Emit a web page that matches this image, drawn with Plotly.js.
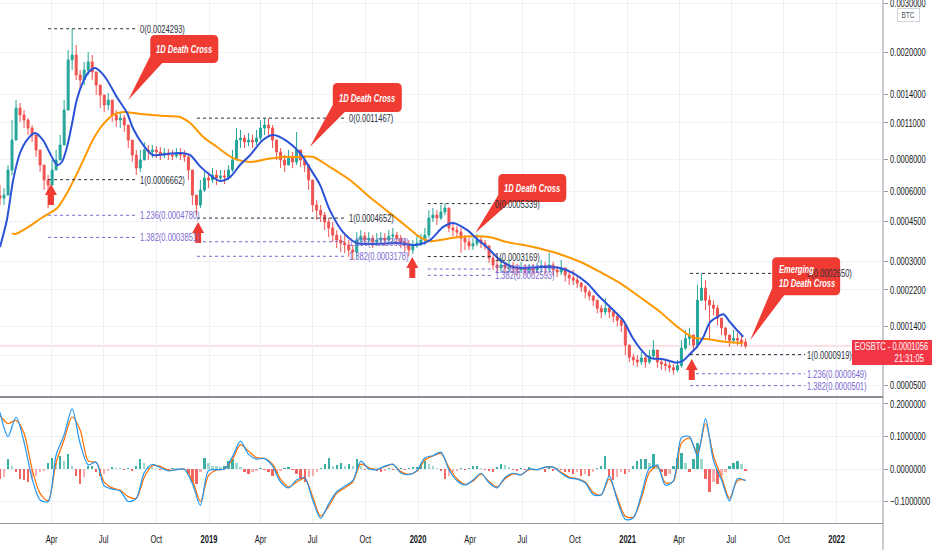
<!DOCTYPE html>
<html><head><meta charset="utf-8">
<script src="https://cdn.plot.ly/plotly-3.0.1.min.js"></script>
<style>html,body{margin:0;padding:0;background:#fff;}#chart{width:932px;height:550px;}</style>
</head><body><div id="chart"></div>
<script>
// ---------- DATA (prices in micro-BTC, 1e-6 BTC) ----------
const START = '2018-01-01';           // first weekly candle
const UNIT = 1e-6;
const OPEN0 = 575;
const closeU = [562,578,727,948,1250,1178,1128,1053,991,869,
760,664,634,727,795,908,1229,1875,1954,1654,
1586,1724,1845,1696,1520,1397,1283,1339,1178,1128,
1148,1080,948,831,740,795,869,854,869,854,
831,846,831,824,846,831,817,727,578,527,
606,676,664,695,676,689,683,727,795,948,
965,932,948,932,965,1053,1080,1053,948,854,
795,760,809,781,869,795,760,664,527,502,
479,448,423,394,375,364,357,339,332,375,
390,375,382,368,375,382,375,390,394,382,
368,357,339,357,364,375,394,466,479,466,
493,512,423,414,406,382,368,353,361,375,
364,353,312,290,281,290,281,287,281,275,
281,275,278,275,281,287,281,290,275,269,
281,260,252,246,238,228,215,205,195,177,
169,177,169,160,152,142,107,88,84,81,
87,81,90,99,81,78,76,73,70,76,
102,118,124,107,195,225,195,184,177,156,
137,124,115,118,115,112,105.6];
const highU = [634,617,760,1128,1339,1305,1229,1148,1080,948,
854,740,695,795,869,991,1339,2037,2429,2124,
1724,1845,2004,1954,1654,1520,1397,1421,1339,1229,
1209,1178,1053,948,869,869,932,908,908,900,
892,884,877,869,884,884,869,831,695,578,
664,714,714,740,727,727,727,760,869,1053,
1035,991,1008,991,1035,1128,1147,1147,1080,948,
884,831,869,854,1017,869,831,760,634,552,
527,493,466,448,414,394,394,375,357,406,
414,406,406,394,402,406,402,414,423,406,
394,382,375,375,390,398,423,502,512,502,
527,534,502,440,431,423,394,382,382,398,
386,375,357,322,306,312,300,306,300,293,
300,293,293,293,296,306,300,329,300,287,
306,281,269,275,260,241,233,220,207,191,
184,200,184,173,164,156,133,107,93,91,
96,91,99,115,91,87,84,81,78,84,
115,133,137,124,233,265,246,207,195,184,
152,138,124,133,128,124,118];
const lowU = [527,527,578,695,948,1109,1053,991,932,817,
714,606,512,634,727,795,908,1229,1724,1586,
1482,1520,1654,1586,1397,1250,1209,1229,1109,1062,
1053,1017,884,781,695,714,795,795,809,809,
795,809,795,795,809,795,781,664,527,479,
512,594,617,646,634,652,640,664,714,795,
884,884,900,884,908,948,991,991,884,795,
740,714,760,740,760,747,714,606,493,457,
448,414,386,368,346,332,329,316,306,312,
357,357,357,346,353,357,353,364,368,357,
346,332,318,325,346,353,357,382,448,435,
457,479,406,390,382,329,339,339,339,353,
346,339,296,275,266,269,266,269,266,260,
266,260,263,260,266,269,263,269,257,254,
260,241,233,233,225,215,200,195,182,166,
156,162,156,148,140,129,91,81,76,74,
77,73,78,84,73,70,69,67,64,67,
73,99,107,96,102,195,173,115,162,142,
124,115,104,109,107,104,102];

// fast moving average (blue)
const fastDates = ['2018-01-01','2018-01-13','2018-01-24','2018-02-05','2018-02-17','2018-03-03','2018-03-17','2018-03-29','2018-04-11','2018-04-19',
'2018-04-28','2018-05-07','2018-05-15','2018-05-26','2018-06-05','2018-06-16','2018-06-26','2018-07-07','2018-07-24','2018-08-11',
'2018-08-21','2018-09-08','2018-09-25','2018-10-20','2018-11-11','2018-11-29','2018-12-16','2019-01-03','2019-01-20','2019-02-07',
'2019-02-24','2019-03-14','2019-04-05','2019-04-23','2019-05-17','2019-06-09','2019-06-26','2019-07-14','2019-07-31','2019-08-23',
'2019-09-16','2019-10-21','2019-11-25','2019-12-30','2020-01-22','2020-02-14','2020-03-02','2020-03-27','2020-04-13','2020-04-30',
'2020-05-23','2020-06-15','2020-07-09','2020-08-01','2020-09-05','2020-09-28','2020-10-22','2020-11-14','2020-12-07','2020-12-24',
'2021-01-10','2021-01-28','2021-02-09','2021-03-04','2021-03-28','2021-04-08','2021-04-20','2021-05-02','2021-05-13','2021-05-25',
'2021-06-06','2021-06-17','2021-06-29','2021-07-11','2021-07-22'];
const fastU = [350,457,664,846,948,1008,948,846,760,781,
892,1099,1339,1560,1696,1754,1696,1586,1373,1198,
1053,908,831,839,846,831,753,695,658,683,
760,831,948,991,940,846,740,634,502,406,
364,361,364,357,375,427,444,414,379,350,
306,284,281,284,281,266,238,202,173,152,
119,96,87,85,80,83,93,104,120,148,
158,164,148,133,121];

// slow moving average (orange)
const slowDates = ['2018-01-22','2018-01-27','2018-02-17','2018-03-17','2018-04-11','2018-04-28','2018-05-21','2018-06-12','2018-06-25','2018-07-07',
'2018-07-17','2018-08-04','2018-09-03','2018-10-20','2018-11-11','2018-11-29','2018-12-22','2019-01-15','2019-02-12','2019-03-14',
'2019-04-12','2019-05-10','2019-06-09','2019-07-02','2019-07-31','2019-09-04','2019-10-09','2019-11-13','2019-12-13','2020-01-04',
'2020-01-22','2020-02-08','2020-03-09','2020-04-13','2020-05-06','2020-06-04','2020-07-20','2020-08-24','2020-10-10','2020-11-14',
'2020-12-19','2021-01-23','2021-02-27','2021-03-28','2021-04-25','2021-05-20','2021-06-24','2021-07-22'];
const slowU = [402,398,423,470,512,589,747,948,1053,1128,
1178,1209,1188,1168,1158,1099,974,892,809,781,
802,817,817,817,747,664,567,488,427,386,
371,375,386,390,386,368,350,332,300,269,
238,202,169,140,120,117,112,110];

// lower oscillator (bi-weekly line values, weekly histogram)
const oscLine = [0.174,0.100,0.160,0.083,-0.029,-0.095,-0.100,0.043,0.105,0.185,
0.078,0.013,0.021,-0.052,-0.062,-0.068,-0.100,-0.090,-0.011,0.014,
0.004,-0.006,-0.002,-0.001,-0.045,-0.112,-0.005,-0.002,0.000,0.038,
0.086,0.045,0.031,0.032,0.009,-0.040,-0.058,-0.034,-0.027,-0.095,
-0.152,-0.107,-0.070,-0.053,-0.036,0.024,0.000,-0.002,0.009,0.015,
-0.012,-0.017,-0.005,0.035,0.041,0.052,-0.002,-0.036,-0.049,-0.034,
-0.013,-0.042,-0.058,-0.026,-0.013,-0.018,0.000,-0.002,0.006,0.006,
-0.013,-0.028,-0.031,-0.042,-0.079,-0.079,-0.021,-0.096,-0.155,-0.150,
-0.079,0.002,0.011,-0.050,-0.036,0.096,0.100,0.041,0.155,0.025,
-0.034,-0.098,-0.029,-0.036];
const oscSignal = [0.165,0.140,0.150,0.110,0.000,-0.075,-0.098,0.020,0.090,0.160,
0.120,0.025,0.020,-0.040,-0.058,-0.065,-0.085,-0.090,-0.025,0.010,
0.008,-0.004,-0.002,0.000,-0.035,-0.100,-0.020,-0.003,0.000,0.030,
0.075,0.055,0.035,0.033,0.015,-0.032,-0.055,-0.040,-0.028,-0.085,
-0.145,-0.115,-0.075,-0.058,-0.040,0.015,0.004,-0.001,0.007,0.014,
-0.008,-0.016,-0.007,0.028,0.040,0.048,0.005,-0.030,-0.047,-0.037,
-0.016,-0.038,-0.055,-0.030,-0.015,-0.017,-0.002,-0.002,0.005,0.006,
-0.010,-0.025,-0.030,-0.040,-0.072,-0.080,-0.030,-0.088,-0.145,-0.148,
-0.090,-0.010,0.008,-0.042,-0.038,0.080,0.095,0.050,0.140,0.040,
-0.025,-0.090,-0.035,-0.034];
const oscHist = [-0.03,-0.025,0.03,0.01,-0.01,-0.03,-0.035,-0.04,-0.03,-0.02,
-0.01,-0.005,0.02,0.035,0.02,0.04,0.025,0.045,0.01,-0.02,
-0.045,-0.025,0.008,0.01,-0.01,-0.02,-0.015,-0.005,0.005,0.003,
0.002,-0.003,0.004,-0.005,0.008,0.03,0.02,0.01,0.005,0.003,
-0.003,0.002,-0.002,0.003,0.002,-0.004,-0.003,-0.015,-0.04,-0.045,
-0.01,0.035,0.02,0.01,0.008,0.005,0.01,0.025,0.03,0.02,
0.005,-0.01,-0.015,-0.01,-0.005,0.003,-0.003,-0.01,-0.02,-0.015,
-0.005,0.004,0.005,-0.004,-0.015,-0.03,-0.04,-0.025,-0.02,-0.01,
0.003,0.015,0.035,0.01,0.012,0.02,0.01,0.015,0.01,0.03,
0.01,-0.003,0.003,0.004,-0.005,-0.008,-0.006,0.004,-0.004,-0.003,
0.003,-0.003,0.003,0.005,0.006,0.015,0.025,0.015,0.008,0.004,
-0.006,-0.03,-0.02,-0.01,-0.005,0.003,-0.004,0.004,0.008,0.01,
0.004,-0.004,-0.006,-0.01,0.006,0.015,0.012,0.006,-0.004,-0.006,
0.004,-0.004,0.005,0.004,-0.003,0.003,-0.01,0.006,-0.006,0.004,
-0.004,-0.008,-0.01,-0.015,-0.01,-0.02,-0.015,-0.02,-0.01,0.004,
0.01,0.04,-0.02,-0.035,-0.025,-0.01,-0.015,-0.01,0.01,0.025,
0.03,0.03,0.02,0.045,0.015,-0.01,-0.02,-0.015,0.01,0.035,
0.05,0.02,-0.01,0.03,0.08,0.03,-0.03,-0.07,-0.04,-0.045,
-0.02,-0.01,0.01,0.02,0.025,0.015,-0.005];

// Fibonacci drawings
const fibLevels = ['0','1','1.236','1.382'];
const fib1 = [0.0024293,0.0006662,0.0004780,0.0003851]; const fib1Span = ['2018-03-26','2018-08-30'];
const fib2 = [0.0011467,0.0004652,0.0003688,0.0003178]; const fib2Span = ['2018-12-11','2019-08-30'];
const fib3 = [0.0005339,0.0003169,0.0002777,0.0002593]; const fib3Span = ['2020-01-18','2020-05-11'];
const fib4 = [0.0002650,0.0000919,0.0000649,0.0000501]; const fib4Span = ['2021-04-20','2021-11-07'];

// callouts and arrows (anchor = tip)
const calloutDates = ['2018-08-13','2019-06-26','2020-04-10','2021-08-03'];
const calloutPrices = [0.001339,0.000892,0.000402,0.000115];
const calloutTexts = ['1D Death Cross','1D Death Cross','1D Death Cross','Emerging<br>1D Death Cross'];
const arrowDates = ['2018-03-31','2018-12-13','2019-12-22','2021-04-23'];
const arrowPrices = [0.000527,0.000364,0.000252,0.000057];

// axes
const tickDates = ['2018-01-01','2018-04-01','2018-07-01','2018-10-01','2019-01-01','2019-04-01','2019-07-01','2019-10-01',
'2020-01-01','2020-04-01','2020-07-01','2020-10-01','2021-01-01','2021-04-01','2021-07-01','2021-10-01','2022-01-01'];
const tickLabels = ['2018','Apr','Jul','Oct','2019','Apr','Jul','Oct','2020','Apr','Jul','Oct','2021','Apr','Jul','Oct','2022'];
const priceTicks = [0.003,0.002,0.0014,0.0011,0.0008,0.0006,0.00045,0.0003,0.00022,0.00014,0.00009,0.00005];
const hiddenTick = 0.00009;               // its label sits under the price tag
const oscTicks = [0.2,0.1,0,-0.1];
const symbol = 'EOSBTC', clock = '21:31:05', quote = 'BTC';

// ---------- BUILD ----------
const FONT = "'Liberation Sans',Arial,sans-serif";
const SX = 0.72;                          // horizontal text condensing (screenshot is narrow)
const T = p => Math.log10(p + 0.0001);   // price-scale transform
function addDays(iso, n){ const d = new Date(iso+'T00:00:00Z'); d.setUTCDate(d.getUTCDate()+n); return d.toISOString().slice(0,10); }

const Y_DOM = [0.2409, 1], Y_RANGE = [-3.8626, -2.4983];
const toPaperY = v => Y_DOM[0] + (T(v) - Y_RANGE[0]) / (Y_RANGE[1] - Y_RANGE[0]) * (Y_DOM[1] - Y_DOM[0]);

const weekDates = closeU.map((_, i) => addDays(START, 7*i));
const cl = closeU.map(v => v*UNIT);
const op = cl.map((v,i) => i === 0 ? OPEN0*UNIT : cl[i-1]);
const hi = highU.map((v,i) => Math.max(v*UNIT, op[i], cl[i]));
const lo = lowU.map((v,i) => Math.min(v*UNIT, op[i], cl[i]));
const oscDates = oscLine.map((_, j) => addDays(START, 14*j));

const GREEN = '#26a69a', RED = '#ef5350', CALL = '#f03b33';
const BLACKF = '#2a2e39', PURPLE = '#7b68cf';

const traces = [];
traces.push({type:'candlestick', x:weekDates, open:op.map(T), high:hi.map(T), low:lo.map(T), close:cl.map(T),
  xaxis:'x', yaxis:'y', whiskerwidth:0, hoverinfo:'skip',
  increasing:{line:{color:GREEN,width:1}, fillcolor:GREEN},
  decreasing:{line:{color:RED,width:1}, fillcolor:RED}});
traces.push({type:'scatter', mode:'lines', x:slowDates, y:slowU.map(v=>T(v*UNIT)), xaxis:'x', yaxis:'y',
  line:{color:'#ff9800', width:2, shape:'spline', smoothing:0.8}, hoverinfo:'skip'});
traces.push({type:'scatter', mode:'lines', x:fastDates, y:fastU.map(v=>T(v*UNIT)), xaxis:'x', yaxis:'y',
  line:{color:'#2a52d6', width:2, shape:'spline', smoothing:0.8}, hoverinfo:'skip'});

const annotations = [];
[[fib1,fib1Span],[fib2,fib2Span],[fib3,fib3Span],[fib4,fib4Span]].forEach(([vals, span]) => {
  vals.forEach((v, k) => {
    const col = k < 2 ? BLACKF : PURPLE;
    traces.push({type:'scatter', mode:'lines', x:span, y:[T(v),T(v)], xaxis:'x', yaxis:'y',
      line:{color:col, width:1, dash:'3px,3px'}, hoverinfo:'skip'});
    annotations.push({xref:'x', yref:'y', x:span[1], y:T(v), xanchor:'left', yanchor:'middle', xshift:0, align:'left',
      text: fibLevels[k] + '(' + v.toFixed(7) + ')', showarrow:false, font:{family:FONT, size:10.5, color:col}});
  });
});

// lower pane
const histCol = oscHist.map((v,i) => {
  const prev = i > 0 ? oscHist[i-1] : 0;
  if (v >= 0) return v >= prev ? 'rgba(38,166,154,0.9)' : 'rgba(38,166,154,0.45)';
  return v <= prev ? 'rgba(239,83,80,0.9)' : 'rgba(239,83,80,0.45)';
});
traces.push({type:'bar', x:weekDates, y:oscHist, xaxis:'x', yaxis:'y2', marker:{color:histCol, line:{width:0}},
  width:4*86400000, hoverinfo:'skip'});
traces.push({type:'scatter', mode:'lines', x:oscDates, y:oscSignal, xaxis:'x', yaxis:'y2',
  line:{color:'#ff6d00', width:1.2, shape:'spline', smoothing:0.8}, hoverinfo:'skip'});
traces.push({type:'scatter', mode:'lines', x:oscDates, y:oscLine, xaxis:'x', yaxis:'y2',
  line:{color:'#2196f3', width:1.2, shape:'spline', smoothing:0.8}, hoverinfo:'skip'});

// shapes
const shapes = [];
const lastClose = cl[cl.length-1];
shapes.push({type:'line', xref:'paper', yref:'y', x0:0, x1:1, y0:T(lastClose), y1:T(lastClose),
  line:{color:'rgba(242,54,69,0.3)', width:1}, layer:'below'});
const boxes = [[22,90,37,65],[23,92,35,64],[23,91,31,59],[22,90,45,83]];
function calloutPath(L,R,B,Tp,r){
  return `M0,0 L${L+12},${B} L${R-r},${B} Q${R},${B} ${R},${B+r} L${R},${Tp-r} Q${R},${Tp} ${R-r},${Tp} L${L+r},${Tp} Q${L},${Tp} ${L},${Tp-r} L${L},${B+7} Z`;
}
calloutDates.forEach((d, k) => {
  const [L,R,B,Tp] = boxes[k];
  shapes.push({type:'path', xref:'x', yref:'y', xsizemode:'pixel', ysizemode:'pixel', xanchor:d, yanchor:T(calloutPrices[k]),
    path: calloutPath(L,R,B,Tp,5), fillcolor:CALL, line:{width:0}, layer:'above'});
  const multi = k === 3;
  annotations.push({xref:'x', yref:'y', x:d, y:T(calloutPrices[k]),
    xshift: multi ? L+5 : (L+R)/2, yshift:(B+Tp)/2,
    xanchor: multi ? 'left' : 'center', yanchor:'middle', align: multi ? 'left' : 'center', showarrow:false,
    text:'<b><i>'+calloutTexts[k]+'</i></b>', font:{family:FONT, size:10.5, color:'#ffffff'}});
});
arrowDates.forEach((d, k) => {
  shapes.push({type:'path', xref:'x', yref:'y', xsizemode:'pixel', ysizemode:'pixel', xanchor:d, yanchor:T(arrowPrices[k]),
    path:'M-3,0 L3,0 L3,10 L6,10 L0,21 L-6,10 L-3,10 Z', fillcolor:CALL, line:{width:0}, layer:'above'});
});
// pane separator and right border
shapes.push({type:'line', xref:'paper', yref:'paper', x0:0, x1:1, y0:0.2409, y1:0.2409, line:{color:'#8a8d96', width:2}});
shapes.push({type:'line', xref:'paper', yref:'paper', x0:1, x1:1, y0:-0.06, y1:1, line:{color:'#9598a1', width:1}});
// current price tag box (sits across the price scale)
shapes.push({type:'rect', xref:'paper', yref:'paper', xsizemode:'pixel', ysizemode:'pixel', xanchor:1, yanchor:toPaperY(lastClose),
  x0:-31, x1:49, y0:-19, y1:6, fillcolor:'#f23645', line:{width:0}, layer:'above'});

annotations.push({xref:'paper', yref:'paper', x:1, y:toPaperY(lastClose), xanchor:'right', yanchor:'middle', xshift:47, yshift:0,
  text:symbol + ' - ' + lastClose.toFixed(7), align:'right', showarrow:false, font:{family:FONT, size:10.5, color:'#ffffff'}});
annotations.push({xref:'paper', yref:'paper', x:1, y:toPaperY(lastClose), xanchor:'right', yanchor:'middle', xshift:43, yshift:-12,
  text:clock, align:'right', showarrow:false, font:{family:FONT, size:10.5, color:'#ffffff'}});
annotations.push({xref:'paper', yref:'paper', x:1, y:1, xanchor:'center', yanchor:'top', xshift:25, yshift:-8,
  text:quote, showarrow:false, bgcolor:'#ffffff', bordercolor:'#d1d4dc', borderwidth:1, borderpad:1,
  font:{family:FONT, size:9, color:'#50535e'}});

const layout = {
  width:932, height:550, margin:{l:0, r:49, t:0, b:27},
  paper_bgcolor:'#ffffff', plot_bgcolor:'#ffffff', showlegend:false,
  font:{family:FONT, size:10, color:'#131722'},
  xaxis:{type:'date', range:['2018-01-01','2022-03-23'], tickvals:tickDates,
    ticktext:tickLabels.map(s => /^\d{4}$/.test(s) ? '<b>'+s+'</b>' : s),
    showgrid:true, gridcolor:'#eef1f6', zeroline:false, showline:true, linecolor:'#9598a1', linewidth:1,
    ticks:'', anchor:'y2', rangeslider:{visible:false}, fixedrange:true, ticklabelstandoff:6,
    tickfont:{family:FONT, size:10.5, color:'#131722'}},
  yaxis:{domain:Y_DOM, range:Y_RANGE, side:'right', anchor:'x', ticklabeloverflow:'allow',
    tickvals:priceTicks.map(T), ticktext:priceTicks.map(v => v === hiddenTick ? '' : v.toFixed(7)),
    showgrid:true, gridcolor:'#eef1f6', zeroline:false, showline:false,
    ticks:'outside', ticklen:4, tickcolor:'#9598a1', tickfont:{family:FONT, size:10.5, color:'#131722'}, fixedrange:true},
  yaxis2:{domain:[0,0.2409], range:[-0.166,0.2215], side:'right', anchor:'x',
    tickvals:oscTicks, ticktext:oscTicks.map(v => (v<0?'\u2212':'') + Math.abs(v).toFixed(7)),
    showgrid:true, gridcolor:'#eef1f6', zeroline:false, showline:false,
    ticks:'outside', ticklen:4, tickcolor:'#9598a1', tickfont:{family:FONT, size:10.5, color:'#131722'}, fixedrange:true},
  shapes: shapes, annotations: annotations, bargap:0
};

Plotly.newPlot('chart', traces, layout, {staticPlot:true, displayModeBar:false}).then(gd => {
  // condense all text horizontally around its own anchor point
  gd.querySelectorAll('svg text').forEach(t => {
    const x = parseFloat(t.getAttribute('x') || '0');
    const prev = t.getAttribute('transform') || '';
    t.setAttribute('transform', prev + ` translate(${x},0) scale(${SX},1) translate(${-x},0)`);
  });
});
</script></body></html>
